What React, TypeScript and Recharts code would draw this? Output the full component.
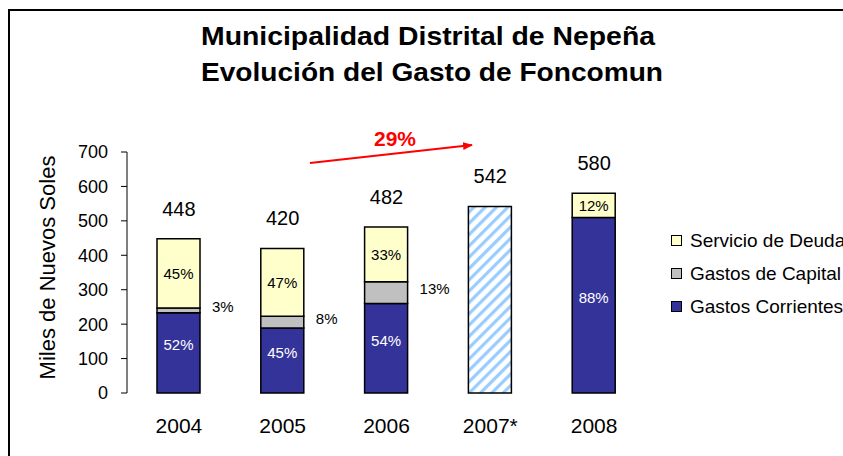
import React from "react";
import {
  ComposedChart,
  Bar,
  Line,
  XAxis,
  YAxis,
  LabelList,
  Legend,
} from "recharts";

const years = ["2004", "2005", "2006", "2007*", "2008"];
const gastosCorrientes = [233, 189, 260, null, 510];
const gastosCapital = [14, 34, 63, null, null];
const servicioDeuda = [201, 197, 159, null, 70];
const estimado = [null, null, null, 542, null];
const totales = [448, 420, 482, 542, 580];
const pctCorrientes = [52, 45, 54, null, 88];
const pctCapital = [3, 8, 13, null, null];
const pctDeuda = [45, 47, 33, null, 12];
const yTicks = [0, 100, 200, 300, 400, 500, 600, 700];
const crecimiento = "29%";

const FONT = '"Liberation Sans", Arial, sans-serif';

const series = [
  { key: "corrientes", name: "Gastos Corrientes", color: "#333399" },
  { key: "capital", name: "Gastos de Capital", color: "#C0C0C0" },
  { key: "deuda", name: "Servicio de Deuda", color: "#FFFFCC" },
];

const data = years.map((year, i) => ({
  year,
  corrientes: gastosCorrientes[i],
  capital: gastosCapital[i],
  deuda: servicioDeuda[i],
  estimado: estimado[i],
  total: totales[i],
  pctCorrientes: pctCorrientes[i],
  pctCapital: pctCapital[i],
  pctDeuda: pctDeuda[i],
}));

// label inside a segment (centered)
const insideLabel = (color: string, dy = 0) => (props: any) => {
  const { x, y, width, height, value } = props;
  if (value == null) return null;
  return (
    <text
      x={x + width / 2}
      y={y + height / 2 + dy}
      textAnchor="middle"
      dominantBaseline="central"
      fontSize={15}
      fontFamily={FONT}
      fill={color}
    >
      {value}%
    </text>
  );
};

// capital share is written to the right of the bar
const sideLabel = (props: any) => {
  const { x, y, width, height, value } = props;
  if (value == null) return null;
  return (
    <text
      x={x + width + 12}
      y={y + height / 2 - 4}
      dominantBaseline="central"
      fontSize={15}
      fontFamily={FONT}
      fill="#000"
    >
      {value}%
    </text>
  );
};

const totalLabel = (props: any) => {
  const { x, y, value, index } = props;
  return (
    <text
      key={index}
      x={x}
      y={y - 23}
      textAnchor="middle"
      fontSize={20}
      fontFamily={FONT}
      fill="#000"
    >
      {value}
    </text>
  );
};

const LegendBox = () => (
  <div style={{ fontFamily: FONT, fontSize: 19, color: "#000" }}>
    {[...series].reverse().map((s) => (
      <div
        key={s.key}
        style={{
          display: "flex",
          alignItems: "center",
          height: 33,
          whiteSpace: "nowrap",
        }}
      >
        <span
          style={{
            display: "inline-block",
            width: 9,
            height: 9,
            border: "1px solid #000",
            background: s.color,
            marginRight: 8,
          }}
        />
        {s.name}
      </div>
    ))}
  </div>
);

const YLabel = (props: any) => {
  const { viewBox } = props;
  const cy = viewBox.y + viewBox.height / 2 - 5;
  return (
    <text
      transform={`translate(47, ${cy}) rotate(-90)`}
      textAnchor="middle"
      dominantBaseline="central"
      fontSize={22}
      fontFamily={FONT}
      fill="#000"
    >
      Miles de Nuevos Soles
    </text>
  );
};

export default function App() {
  return (
    <div
      style={{
        position: "absolute",
        left: 0,
        top: 0,
        width: 843,
        height: 456,
        overflow: "hidden",
        background: "#fff",
      }}
    >
      <div
        style={{
          position: "absolute",
          left: 8,
          top: 9,
          width: 900,
          height: 500,
          border: "2px solid #000",
          boxSizing: "border-box",
        }}
      />
      <svg
        width={843}
        height={456}
        style={{ position: "absolute", left: 0, top: 0 }}
      >
        <defs>
          <pattern
            id="rayado"
            width={8}
            height={8}
            patternUnits="userSpaceOnUse"
            patternTransform="rotate(45)"
          >
            <rect width={8} height={8} fill="#fff" />
            <rect width={3.2} height={8} fill="#99CCFF" />
          </pattern>
          <marker
            id="flecha"
            markerWidth={10}
            markerHeight={8}
            refX={9}
            refY={4}
            orient="auto"
            markerUnits="userSpaceOnUse"
          >
            <path d="M0,0 L10,4 L0,8 z" fill="#FF0000" />
          </marker>
        </defs>
        <text
          x={428}
          y={45}
          textAnchor="middle"
          fontSize={25}
          fontWeight="bold"
          fontFamily={FONT}
          textLength={454}
          lengthAdjust="spacingAndGlyphs"
        >
          Municipalidad Distrital de Nepeña
        </text>
        <text
          x={432}
          y={81}
          textAnchor="middle"
          fontSize={25}
          fontWeight="bold"
          fontFamily={FONT}
          textLength={462}
          lengthAdjust="spacingAndGlyphs"
        >
          Evolución del Gasto de Foncomun
        </text>
        <line
          x1={310}
          y1={163}
          x2={472}
          y2={145}
          stroke="#FF0000"
          strokeWidth={2}
          markerEnd="url(#flecha)"
        />
        <text
          x={395}
          y={146}
          textAnchor="middle"
          fontSize={21}
          fontWeight="bold"
          fontFamily={FONT}
          fill="#FF0000"
        >
          {crecimiento}
        </text>
      </svg>
      <div style={{ position: "absolute", left: 0, top: 0 }}>
        <ComposedChart
          width={843}
          height={456}
          data={data}
          margin={{ top: 152, right: 197, bottom: 23, left: 67 }}
        >
          <XAxis
            xAxisId="bordes"
            type="number"
            domain={[0, 5]}
            ticks={[0, 1, 2, 3, 4, 5]}
            tick={false}
            tickSize={7}
            height={0}
            allowDataOverflow
            axisLine={{ stroke: "#000" }}
            tickLine={{ stroke: "#000" }}
          />
          <XAxis
            dataKey="year"
            axisLine={false}
            tickLine={false}
            tickSize={0}
            tickMargin={25}
            height={40}
            interval={0}
            tick={{ fontSize: 21, fill: "#000", fontFamily: FONT }}
          />
          <YAxis
            width={60}
            domain={[0, 700]}
            ticks={yTicks}
            interval={0}
            tickSize={6}
            tickMargin={13}
            axisLine={{ stroke: "#000" }}
            tickLine={{ stroke: "#000" }}
            tick={{ fontSize: 18, fill: "#000", fontFamily: FONT }}
            label={<YLabel />}
          />
          <Legend
            layout="vertical"
            align="center"
            verticalAlign="middle"
            wrapperStyle={{ left: 671, top: 224, width: 220 }}
            content={<LegendBox />}
          />
          <Bar
            dataKey="corrientes"
            name="Gastos Corrientes"
            stackId="a"
            fill="#333399"
            stroke="#000"
            strokeWidth={1.5}
            barSize={43}
            isAnimationActive={false}
          >
            <LabelList dataKey="pctCorrientes" content={insideLabel("#fff", -8)} />
          </Bar>
          <Bar
            dataKey="capital"
            name="Gastos de Capital"
            stackId="a"
            fill="#C0C0C0"
            stroke="#000"
            strokeWidth={1.5}
            barSize={43}
            isAnimationActive={false}
          >
            <LabelList dataKey="pctCapital" content={sideLabel} />
          </Bar>
          <Bar
            dataKey="deuda"
            name="Servicio de Deuda"
            stackId="a"
            fill="#FFFFCC"
            stroke="#000"
            strokeWidth={1.5}
            barSize={43}
            isAnimationActive={false}
          >
            <LabelList dataKey="pctDeuda" content={insideLabel("#000")} />
          </Bar>
          <Bar
            dataKey="estimado"
            stackId="a"
            fill="url(#rayado)"
            stroke="#000"
            strokeWidth={1.5}
            barSize={43}
            legendType="none"
            isAnimationActive={false}
          />
          <Line
            dataKey="total"
            stroke="none"
            dot={false}
            activeDot={false}
            legendType="none"
            label={totalLabel}
            isAnimationActive={false}
          />
        </ComposedChart>
      </div>
    </div>
  );
}
